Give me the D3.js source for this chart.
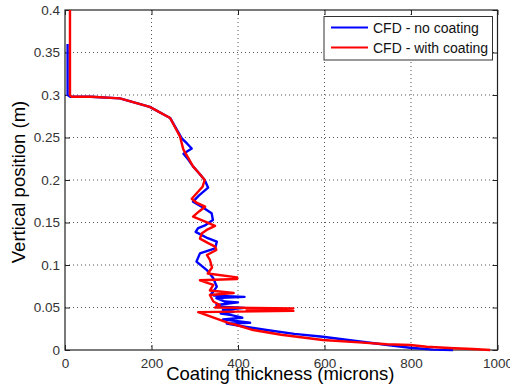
<!DOCTYPE html>
<html><head><meta charset="utf-8">
<script src="https://cdn.jsdelivr.net/npm/d3@7/dist/d3.min.js"></script>
<style>
html,body{margin:0;padding:0;background:#fff;overflow:hidden;}
text{font-family:"Liberation Sans",Arial,sans-serif;}
</style></head>
<body><svg id="c" width="510" height="391"></svg>
<script>
// ---- data ----
const xTicks = [0, 200, 400, 600, 800, 1000];
const yTicks = [0, 0.05, 0.1, 0.15, 0.2, 0.25, 0.3, 0.35, 0.4];
const yTickLabels = ["0", "0.05", "0.1", "0.15", "0.2", "0.25", "0.3", "0.35", "0.4"];
const seriesNames = ["CFD - no coating", "CFD - with coating"];
const seriesColors = ["#0000ff", "#ff0000"];

// no coating: thickness (microns) and vertical position (m)
const noCoatingThickness = [6,6,12,60,127,196,243,270,282,293,274,285,296,310,323,331,310,296,318,339,342,325,308,302,330,351,347,312,304,328,343,351,343,338,345,360,415,350,370,400,350,360,415,365,390,360,385,410,365,428,374,420,466,530,596,650,705,760,798,851,897];
const noCoatingY = [0.36,0.300,0.298,0.298,0.296,0.286,0.273,0.249,0.243,0.237,0.231,0.224,0.216,0.208,0.200,0.191,0.182,0.1745,0.168,0.161,0.153,0.147,0.1435,0.139,0.1315,0.1274,0.1196,0.1137,0.104,0.094,0.0843,0.0745,0.0686,0.066,0.064,0.0635,0.0625,0.061,0.057,0.056,0.053,0.051,0.0495,0.047,0.045,0.043,0.041,0.038,0.036,0.032,0.031,0.027,0.0235,0.019,0.0156,0.012,0.0086,0.005,0.0027,0.0005,0];

// with coating
const withCoatingThickness = [11.5,11.5,15,60,127,196,243,266,273.5,285,296,310,323,318,293,305,324,310,296,320,347,330,316,312,330,347,350,328,335,340,330,398,398,312,343,335,390,335,343,358,347,528,420,528,308,381,397,435,500,596,680,744,798,836,900,943,983];
const withCoatingY = [0.4,0.300,0.298,0.298,0.296,0.286,0.273,0.251,0.236,0.226,0.216,0.208,0.200,0.192,0.178,0.173,0.1686,0.163,0.157,0.152,0.146,0.142,0.137,0.131,0.126,0.1216,0.1176,0.1118,0.106,0.097,0.090,0.0855,0.0835,0.082,0.0765,0.070,0.067,0.0647,0.057,0.053,0.050,0.049,0.047,0.046,0.0445,0.0314,0.0294,0.0235,0.018,0.0118,0.009,0.0067,0.0059,0.0039,0.002,0.0012,0];

// ---- layout ----
const L = 65, R = 497.5, T = 10, B = 350;
const svg = d3.select("#c");
const x = d3.scaleLinear().domain([0, 1000]).range([L, R]);
const y = d3.scaleLinear().domain([0, 0.4]).range([B, T]);

// grid
const grid = svg.append("g");
grid.selectAll("line.vx").data(xTicks.slice(1, -1)).enter().append("line")
  .attr("x1", d => x(d)).attr("x2", d => x(d)).attr("y1", T).attr("y2", B)
  .attr("stroke", "#555").attr("stroke-width", 1).attr("stroke-dasharray", "1,3");
grid.selectAll("line.hy").data(yTicks.slice(1, -1)).enter().append("line")
  .attr("y1", d => y(d)).attr("y2", d => y(d)).attr("x1", L).attr("x2", R)
  .attr("stroke", "#555").attr("stroke-width", 1).attr("stroke-dasharray", "1,3");

// axes
const xAxisB = d3.axisBottom(x).tickValues(xTicks).tickSize(-5).tickPadding(8).tickFormat(d3.format("d"));
const xAxisT = d3.axisTop(x).tickValues(xTicks).tickSize(-5).tickFormat("");
const yAxisL = d3.axisLeft(y).tickValues(yTicks).tickSize(-5).tickPadding(5).tickFormat((d, i) => yTickLabels[i]);
const yAxisR = d3.axisRight(y).tickValues(yTicks).tickSize(-5).tickFormat("");

function style(g) {
  g.select(".domain").remove();
  g.selectAll(".tick line").attr("stroke", "#222");
  g.selectAll("text").attr("fill", "#333").attr("font-size", 13.5)
   .attr("font-family", "'Liberation Sans', Arial, sans-serif");
}
svg.append("g").attr("transform", `translate(0,${B})`).call(xAxisB).call(style);
svg.append("g").attr("transform", `translate(0,${T})`).call(xAxisT).call(style);
svg.append("g").attr("transform", `translate(${L},0)`).call(yAxisL).call(style);
svg.append("g").attr("transform", `translate(${R},0)`).call(yAxisR).call(style);

svg.append("rect").attr("x", L).attr("y", T).attr("width", R - L).attr("height", B - T)
  .attr("fill", "none").attr("stroke", "#222").attr("stroke-width", 1.2);

// lines
const line = d3.line().x(d => x(d[0])).y(d => y(d[1]));
const s1 = noCoatingThickness.map((v, i) => [v, noCoatingY[i]]);
const s2 = withCoatingThickness.map((v, i) => [v, withCoatingY[i]]);
[s1, s2].forEach((s, i) => {
  svg.append("path").datum(s).attr("d", line).attr("fill", "none")
    .attr("stroke", seriesColors[i]).attr("stroke-width", 2.4).attr("stroke-linejoin", "round");
});

// axis labels
svg.append("text").attr("x", (L + R) / 2 - 1).attr("y", 380).attr("text-anchor", "middle")
  .attr("font-size", 18.5).attr("fill", "#000").text("Coating thickness (microns)");
svg.append("text").attr("transform", `translate(25,182) rotate(-90)`).attr("text-anchor", "middle")
  .attr("font-size", 18.5).attr("fill", "#000").text("Vertical position (m)");

// legend
const lg = svg.append("g");
lg.append("rect").attr("x", 324).attr("y", 16.5).attr("width", 168.5).attr("height", 43.5)
  .attr("fill", "#fff").attr("stroke", "#333").attr("stroke-width", 1);
seriesNames.forEach((n, i) => {
  const yy = 27.5 + i * 20;
  lg.append("line").attr("x1", 331).attr("x2", 368).attr("y1", yy).attr("y2", yy)
    .attr("stroke", seriesColors[i]).attr("stroke-width", 2);
  lg.append("text").attr("x", 373).attr("y", yy + 5).attr("font-size", 14).attr("fill", "#111").text(n);
});
</script></body></html>
